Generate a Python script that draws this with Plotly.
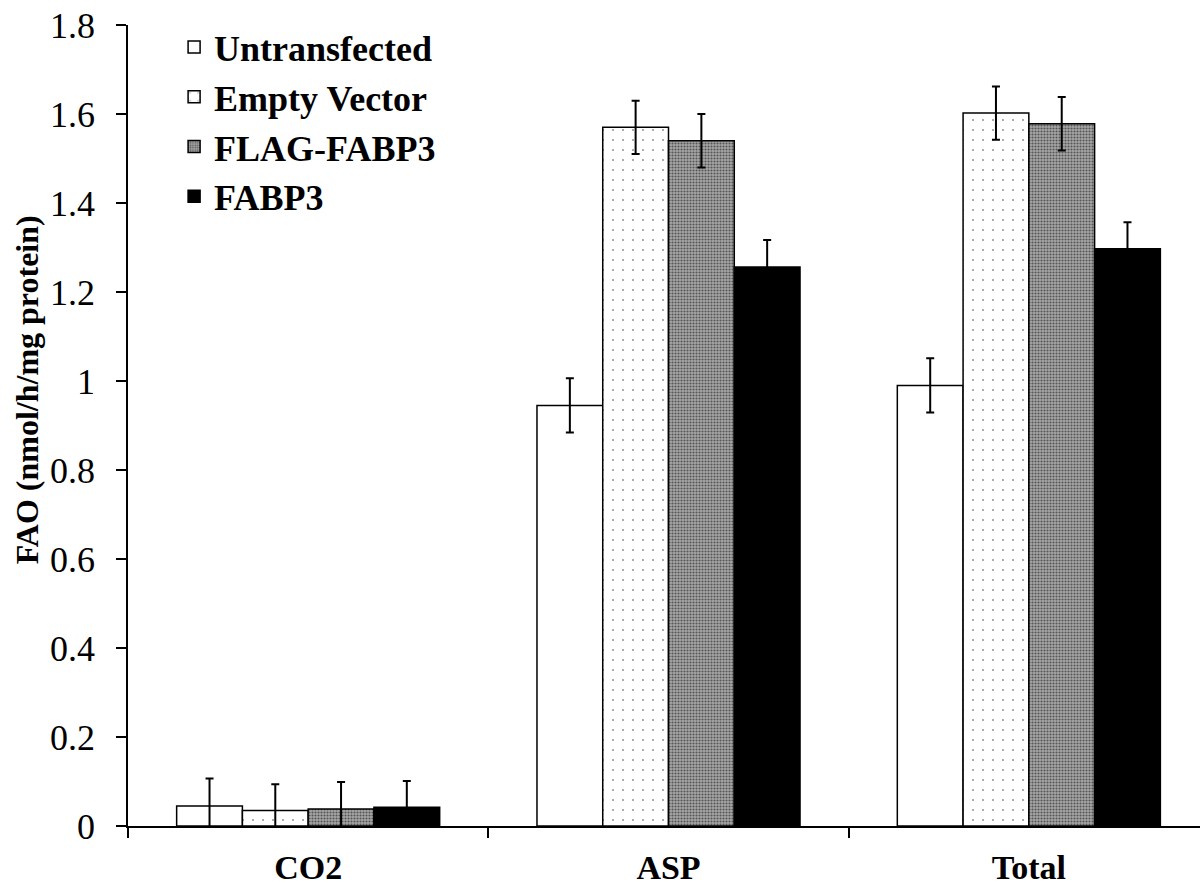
import plotly.graph_objects as go

categories = ["CO2", "ASP", "Total"]
series_names = ["Untransfected", "Empty Vector", "FLAG-FABP3", "FABP3"]

untransfected = [0.045, 0.945, 0.990]
empty_vector = [0.035, 1.570, 1.602]
flag_fabp3 = [0.038, 1.540, 1.578]
fabp3 = [0.042, 1.256, 1.297]

untransfected_err = [0.062, 0.061, 0.061]
empty_vector_err = [0.059, 0.060, 0.060]
flag_fabp3_err = [0.061, 0.060, 0.060]
fabp3_err = [0.059, 0.061, 0.060]

y_ticks = [0, 0.2, 0.4, 0.6, 0.8, 1, 1.2, 1.4, 1.6, 1.8]
y_tick_text = ["0", "0.2", "0.4", "0.6", "0.8", "1", "1.2", "1.4", "1.6", "1.8"]

FONT = "Liberation Serif"

styles = [
    dict(color="white", pattern=None),
    dict(color="white", pattern=dict(shape=".", fgcolor="#222222", bgcolor="white",
                                     size=10, solidity=0.03, fillmode="overlay")),
    dict(color="#999999", pattern=dict(shape=".", fgcolor="#000000", bgcolor="#a8a8a8",
                                       size=3, solidity=0.4, fillmode="overlay")),
    dict(color="black", pattern=None),
]

values = [untransfected, empty_vector, flag_fabp3, fabp3]
errors = [untransfected_err, empty_vector_err, flag_fabp3_err, fabp3_err]

fig = go.Figure()
for name, vals, errs, st in zip(series_names, values, errors, styles):
    marker = dict(color=st["color"], line=dict(color="black", width=1.5))
    if st["pattern"] is not None:
        marker["pattern"] = st["pattern"]
    fig.add_trace(go.Bar(
        x=categories, y=vals, name=name, legendgroup=name,
        marker=marker,
        error_y=dict(type="data", array=errs, visible=True,
                     color="black", thickness=2, width=4),
    ))

fig.update_layout(
    width=1200, height=886,
    margin=dict(l=128, r=0, t=25, b=60),
    paper_bgcolor="white", plot_bgcolor="white",
    barmode="group", bargap=0.27, bargroupgap=0,
    font=dict(family=FONT, size=34, color="black"),
    legend=dict(x=0.043, y=1.01, xanchor="left", yanchor="top",
                bgcolor="rgba(0,0,0,0)", tracegroupgap=0,
                font=dict(family=FONT, size=36, color="black", weight="bold")),
    xaxis=dict(range=[-0.5, 2.475], showline=True, linecolor="black", linewidth=1.5,
               ticks="outside", ticklen=10, tickwidth=1.5, tickcolor="black",
               tickson="boundaries", ticklabelstandoff=10,
               tickfont=dict(family=FONT, size=34, color="black", weight="bold"),
               showgrid=False, zeroline=False),
    yaxis=dict(range=[0, 1.8], showline=True, linecolor="black", linewidth=1.5,
               ticks="outside", ticklen=10, tickwidth=1.5, tickcolor="black",
               tickvals=y_ticks, ticktext=y_tick_text, ticklabelstandoff=14,
               tickfont=dict(family=FONT, size=36, color="black"),
               showgrid=False, zeroline=False),
    annotations=[dict(text="<b>FAO (nmol/h/mg protein)</b>", textangle=-90,
                      xref="paper", yref="paper", x=-0.0934, y=0.545,
                      xanchor="center", yanchor="middle", showarrow=False,
                      font=dict(family=FONT, size=32, color="black"))],
)

fig.write_html("out.html")
